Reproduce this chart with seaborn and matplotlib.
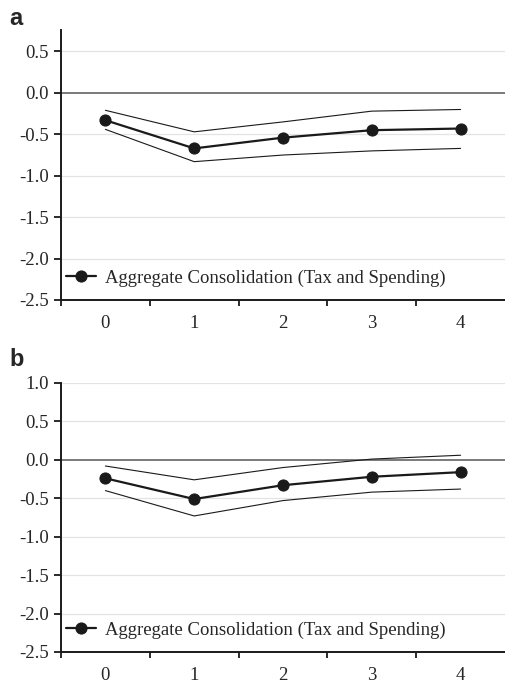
import matplotlib
matplotlib.use("Agg")
import matplotlib.pyplot as plt
import pandas as pd
import seaborn as sns

# horizon (years after consolidation)
horizon = [0, 1, 2, 3, 4]

# panel a
a_mean = [-0.33, -0.67, -0.54, -0.45, -0.43]
a_upper = [-0.21, -0.47, -0.35, -0.22, -0.20]
a_lower = [-0.44, -0.83, -0.75, -0.70, -0.67]

# panel b
b_mean = [-0.24, -0.51, -0.33, -0.22, -0.16]
b_upper = [-0.08, -0.26, -0.10, 0.01, 0.06]
b_lower = [-0.40, -0.73, -0.53, -0.42, -0.38]

legend_label = "Aggregate Consolidation (Tax and Spending)"

sns.set_style("white")
plt.rcParams['font.family'] = ['Liberation Serif', 'DejaVu Serif']
plt.rcParams['axes.unicode_minus'] = False

fig = plt.figure(figsize=(5.05, 6.81), dpi=100)
ax_a = fig.add_axes([0.1208, 0.5595, 0.8792, 0.3965])
ax_b = fig.add_axes([0.1208, 0.0426, 0.8792, 0.395])


def draw_panel(ax, mean, upper, lower, ylim, yticks, letter, letter_y):
    df = pd.DataFrame({'h': horizon, 'mean': mean, 'upper': upper, 'lower': lower})
    for tick in yticks:
        if tick == 0:
            ax.axhline(0, color='#7a7a7a', lw=1.4, zorder=1)
        else:
            ax.axhline(tick, color='#e3e3e3', lw=0.9, zorder=0)
    sns.lineplot(data=df, x='h', y='upper', ax=ax, color='#1a1a1a', lw=0.8)
    sns.lineplot(data=df, x='h', y='lower', ax=ax, color='#1a1a1a', lw=0.8)
    sns.lineplot(data=df, x='h', y='mean', ax=ax, color='#1a1a1a', lw=1.6,
                 marker='o', markersize=8, markeredgecolor='#1a1a1a',
                 label=legend_label)
    ax.set_xlim(-0.5, 4.5)
    ax.set_ylim(*ylim)
    ax.set_yticks(yticks)
    ax.set_yticklabels([f"{t:.1f}" for t in yticks])
    ax.set_xticks(horizon)
    ax.set_xticks([-0.5, 0.5, 1.5, 2.5, 3.5], minor=True)
    ax.tick_params(axis='x', which='major', length=0, pad=11, labelsize=13.5)
    ax.tick_params(axis='x', which='minor', length=4, width=1.3, direction='out',
                   color='#1a1a1a', bottom=True)
    ax.tick_params(axis='y', length=5, width=1.3, direction='out', labelsize=13.5,
                   color='#1a1a1a', left=True, pad=4)
    ax.set_xlabel('')
    ax.set_ylabel('')
    for side in ['top', 'right']:
        ax.spines[side].set_visible(False)
    for side in ['left', 'bottom']:
        ax.spines[side].set_color('#1a1a1a')
        ax.spines[side].set_linewidth(1.4)
    ax.legend(loc='lower left', frameon=False, fontsize=13.5, handlelength=1.6,
              handletextpad=0.5, borderaxespad=0.2, bbox_to_anchor=(-0.015, 0.008))
    ax.text(-0.117, letter_y, letter, transform=ax.transAxes, fontsize=17,
            fontweight='bold', family='Liberation Sans', ha='left', va='bottom')


draw_panel(ax_a, a_mean, a_upper, a_lower, (-2.5, 0.76),
           [0.5, 0.0, -0.5, -1.0, -1.5, -2.0, -2.5], 'a', 1.0)
draw_panel(ax_b, b_mean, b_upper, b_lower, (-2.5, 1.0),
           [1.0, 0.5, 0.0, -0.5, -1.0, -1.5, -2.0, -2.5], 'b', 1.045)

fig.savefig('out.png', dpi=100)
